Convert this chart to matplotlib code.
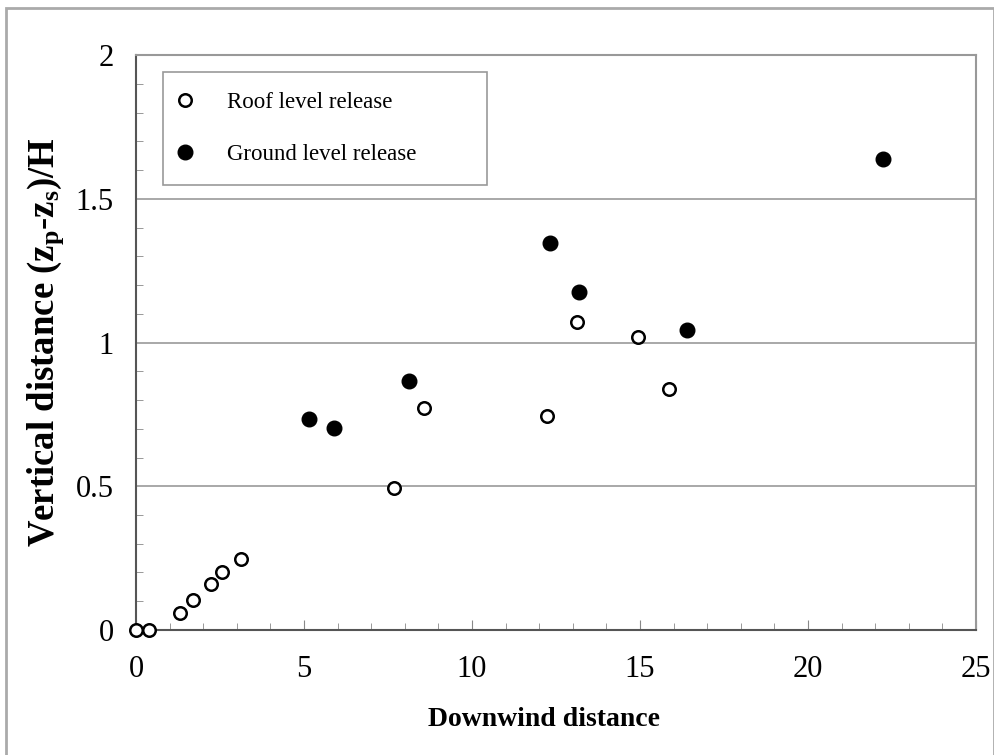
import matplotlib
matplotlib.use('Agg')
import matplotlib.pyplot as plt
from matplotlib.patches import Rectangle
from matplotlib.ticker import MultipleLocator

# roof level release (open circles)
roof_x = [0.0, 0.40, 1.31, 1.69, 2.22, 2.55, 3.13, 7.67, 8.58, 12.24, 13.13, 14.94, 15.86]
roof_y = [0.0, 0.0, 0.058, 0.104, 0.159, 0.203, 0.248, 0.494, 0.771, 0.744, 1.072, 1.018, 0.838]

# ground level release (filled circles)
ground_x = [5.16, 5.88, 8.13, 12.32, 13.18, 16.41, 22.23]
ground_y = [0.733, 0.704, 0.866, 1.347, 1.175, 1.043, 1.638]

plt.rcParams['font.family'] = ['Liberation Serif', 'DejaVu Serif']
plt.rcParams['mathtext.fontset'] = 'custom'
plt.rcParams['mathtext.rm'] = 'Liberation Serif'
plt.rcParams['mathtext.bf'] = 'Liberation Serif:bold'

fig = plt.figure(figsize=(9.95, 7.55), dpi=100)
ax = fig.add_axes([0.1367, 0.1656, 0.981 - 0.1367, 0.927 - 0.1656])

ax.plot(roof_x, roof_y, 'o', ms=9, mfc='white', mec='black', mew=1.8,
        label='Roof level release', clip_on=False, zorder=3)
ax.plot(ground_x, ground_y, 'o', ms=10.5, mfc='black', mec='black',
        label='Ground level release', clip_on=False, zorder=3)

ax.set_xlim(0, 25)
ax.set_ylim(0, 2)
ax.xaxis.set_major_locator(MultipleLocator(5))
ax.xaxis.set_minor_locator(MultipleLocator(1))
ax.yaxis.set_minor_locator(MultipleLocator(0.1))
ax.set_yticks([0, 0.5, 1, 1.5, 2])
ax.set_yticklabels(['0', '0.5', '1', '1.5', '2'])

ax.grid(axis='y', which='major', color='#999999', lw=1.2)
ax.set_axisbelow(True)
ax.tick_params(which='both', direction='in', colors='#888888', labelcolor='black',
               labelsize=22)
ax.tick_params(axis='x', which='major', length=7, pad=18)
ax.tick_params(axis='x', which='minor', length=5)
ax.tick_params(axis='y', which='major', length=0, pad=16)
ax.tick_params(axis='y', which='minor', length=5)

for side in ['left', 'bottom']:
    ax.spines[side].set_color('#555555')
    ax.spines[side].set_linewidth(1.5)
for side in ['top', 'right']:
    ax.spines[side].set_color('#999999')
    ax.spines[side].set_linewidth(1.5)

ax.set_xlabel('Downwind distance', fontsize=20, fontweight='bold')
ax.xaxis.set_label_coords(0.486, -0.134)
ax.set_ylabel(r'Vertical distance ($\mathbf{z_p}$-$\mathbf{z_s}$)/H',
              fontsize=26.5, fontweight='bold', labelpad=7)

leg = ax.legend(loc='upper left',
                bbox_to_anchor=(163 / 995, 1 - 177 / 755, 324 / 995, 105 / 755),
                bbox_transform=fig.transFigure, mode='expand', borderaxespad=0,
                fontsize=16.5, handletextpad=1.74, handlelength=0.2, borderpad=0.86,
                labelspacing=1.36, fancybox=False, framealpha=1)
leg.get_frame().set_edgecolor('#999999')
leg.get_frame().set_linewidth(1.2)

# outer frame of the picture
fig.add_artist(Rectangle((6 / 995, -0.01), 988 / 995, 0.9894 + 0.01,
                         transform=fig.transFigure, fill=False,
                         edgecolor='#aaaaaa', lw=2))

fig.savefig('out.png', dpi=100)
